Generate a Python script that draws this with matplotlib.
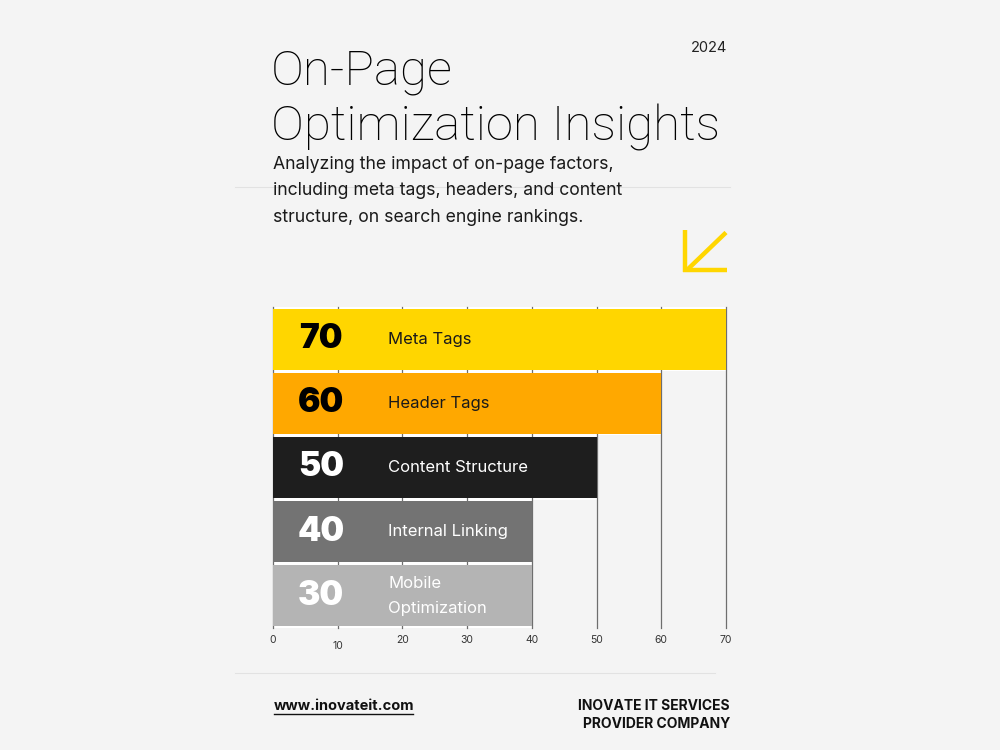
import matplotlib.pyplot as plt
from matplotlib.lines import Line2D

# data
categories = ["Meta Tags", "Header Tags", "Content Structure", "Internal Linking", "Mobile\nOptimization"]
label_values = [70, 60, 50, 40, 30]
bar_lengths = [70, 60, 50, 40, 40]
bar_colors = ["#FFD600", "#FFA800", "#1E1E1E", "#737373", "#B4B4B4"]
num_colors = ["#000000", "#000000", "#FFFFFF", "#FFFFFF", "#FFFFFF"]
name_colors = ["#1a1a1a", "#1a1a1a", "#FFFFFF", "#FFFFFF", "#FFFFFF"]
x_ticks = [0, 10, 20, 30, 40, 50, 60, 70]

bg = "#F4F4F4"
plt.rcParams['font.family'] = ['Inter', 'DejaVu Sans']
title_font = ['Roboto', 'DejaVu Sans']

fig = plt.figure(figsize=(10, 7.5), dpi=100, facecolor=bg)

# header
fig.text(0.271, 0.887, "On-Page", fontsize=35.5, fontweight='light', family=title_font,
         color='#000000', va='baseline')
fig.text(0.271, 0.813, "Optimization Insights", fontsize=35.5, fontweight='light', family=title_font,
         color='#000000', va='baseline')
fig.text(0.727, 0.931, "2024", fontsize=10.5, color='#222222', ha='right', va='baseline')
subtitle = ["Analyzing the impact of on-page factors,",
            "including meta tags, headers, and content",
            "structure, on search engine rankings."]
for i, line in enumerate(subtitle):
    fig.text(0.273, 0.775 - i * 0.0355, line, fontsize=12.7, color='#1a1a1a', va='baseline')

# thin rules
fig.add_artist(Line2D([0.235, 0.73], [0.751, 0.751], color='#E2E2E2', lw=0.8, zorder=0))
fig.add_artist(Line2D([0.235, 0.715], [0.103, 0.103], color='#E2E2E2', lw=0.8))

# yellow arrow
arrow_kw = dict(color='#FFD600', lw=3.2, solid_capstyle='butt')
fig.add_artist(Line2D([0.726, 0.687], [0.690, 0.640], **arrow_kw))
fig.add_artist(Line2D([0.6845, 0.6845], [0.693, 0.638], **arrow_kw))
fig.add_artist(Line2D([0.683, 0.727], [0.6395, 0.6395], **arrow_kw))

# chart
ax = fig.add_axes([0.273, 0.1627, 0.453, 0.428])
ax.set_facecolor(bg)
ypos = list(range(len(categories)))
ax.barh(ypos, bar_lengths, height=1.0, color='white', zorder=1)
ax.barh(ypos, bar_lengths, height=0.95, color=bar_colors, zorder=3)
for x in x_ticks:
    ax.axvline(x, color='#6E6E6E', lw=0.9, zorder=2, clip_on=False)

for y, v, name, nc, tc in zip(ypos, label_values, categories, num_colors, name_colors):
    ax.text(7.4, y, str(v), fontsize=24, fontweight='black', color=nc, ha='center', va='center', zorder=4)
    ax.text(17.8, y, name, fontsize=12, color=tc, ha='left', va='center', linespacing=1.8, zorder=4)

ax.set_xlim(0, 70)
ax.set_ylim(len(categories) - 0.5, -0.5)
ax.set_yticks([])
ax.set_xticks(x_ticks)
ax.set_xticklabels([str(t) for t in x_ticks])
ax.tick_params(axis='x', length=0, labelsize=7.5, labelcolor='#333333', pad=5)
for lbl in ax.get_xticklabels():
    if lbl.get_text() == "10":
        lbl.set_y(-0.018)
for s in ax.spines.values():
    s.set_visible(False)

# footer
fig.text(0.274, 0.0535, "www.inovateit.com", fontsize=10.5, fontweight='bold', color='#111111', va='baseline')
fig.add_artist(Line2D([0.274, 0.413], [0.0485, 0.0485], color='#111111', lw=1))
fig.text(0.730, 0.054, "INOVATE IT SERVICES", fontsize=10, fontweight='bold', color='#111111', ha='right', va='baseline')
fig.text(0.730, 0.030, "PROVIDER COMPANY", fontsize=10, fontweight='bold', color='#111111', ha='right', va='baseline')

fig.savefig("out.png", dpi=100, facecolor=bg)
